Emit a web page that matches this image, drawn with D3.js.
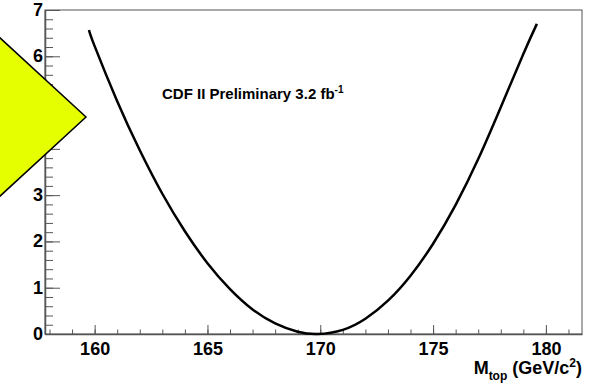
<!DOCTYPE html>
<html>
<head>
<meta charset="utf-8">
<script src="https://cdn.jsdelivr.net/npm/d3@7"></script>
<style>
  body { margin: 0; background: #fff; }
  svg { display: block; }
  text { font-family: "Liberation Sans", Arial, Helvetica, sans-serif; font-weight: bold; }
</style>
</head>
<body>
<div id="chart"></div>
<script>
// scan points: top mass (GeV/c^2) and -2 delta lnL
var massValues = [159.75, 160, 161, 162, 163, 164, 165, 166, 167, 168, 169, 169.9,
                  171, 172, 173, 174, 175, 176, 177, 178, 179, 179.6];
var likelihoodValues = [6.57, 6.22, 5.03, 3.97, 3.03, 2.22, 1.53, 0.97, 0.53, 0.23, 0.05, 0.00,
                        0.09, 0.33, 0.72, 1.26, 1.95, 2.79, 3.78, 4.90, 6.05, 6.70];
var xTicks = [160, 165, 170, 175, 180];
var yTicks = [0, 1, 2, 3, 4, 5, 6, 7];
var labelText = "CDF II Preliminary 3.2 fb";

var width = 600, height = 385;
var margin = {top: 10, right: 18, bottom: 51, left: 45};

var svg = d3.select("#chart")
  .append("svg")
    .attr("width", width)
    .attr("height", height);

var x = d3.scaleLinear()
  .domain([157.8, 181.6])
  .range([margin.left, width - margin.right]);

var y = d3.scaleLinear()
  .domain([0, 7])
  .range([height - margin.bottom, margin.top]);

// frame
svg.append("rect")
  .attr("x", margin.left)
  .attr("y", margin.top)
  .attr("width", width - margin.right - margin.left)
  .attr("height", height - margin.bottom - margin.top)
  .attr("fill", "none")
  .attr("stroke", "#555")
  .attr("stroke-width", 1);

// minor ticks
svg.append("g")
  .attr("transform", "translate(" + margin.left + ",0)")
  .call(d3.axisLeft(y).tickValues(d3.range(0, 7.001, 0.2)).tickSizeInner(-8).tickSizeOuter(0).tickFormat(""))
  .call(function(g) { g.select(".domain").remove(); })
  .selectAll("line").attr("stroke", "#555");

svg.append("g")
  .attr("transform", "translate(0," + (height - margin.bottom) + ")")
  .call(d3.axisBottom(x).tickValues(d3.range(158, 181.5, 1)).tickSizeInner(-4.5).tickSizeOuter(0).tickFormat(""))
  .call(function(g) { g.select(".domain").remove(); })
  .selectAll("line").attr("stroke", "#555");

// major ticks + labels
var yAxis = svg.append("g")
  .attr("transform", "translate(" + margin.left + ",0)")
  .call(d3.axisLeft(y).tickValues(yTicks).tickFormat(d3.format("d"))
    .tickSizeInner(-15).tickSizeOuter(0).tickPadding(2));
yAxis.select(".domain").attr("stroke", "#555").attr("stroke-width", 1.5);
yAxis.selectAll("line").attr("stroke", "#555");
yAxis.selectAll("text")
  .attr("font-size", 18)
  .attr("font-family", "Liberation Sans, Arial, sans-serif")
  .attr("font-weight", "bold")
  .attr("fill", "#000")
  .attr("dy", "0.3em");

var xAxis = svg.append("g")
  .attr("transform", "translate(0," + (height - margin.bottom) + ")")
  .call(d3.axisBottom(x).tickValues(xTicks).tickFormat(d3.format("d"))
    .tickSizeInner(-9).tickSizeOuter(0).tickPadding(8));
xAxis.select(".domain").attr("stroke", "#555").attr("stroke-width", 1.5);
xAxis.selectAll("line").attr("stroke", "#555");
xAxis.selectAll("text")
  .attr("font-size", 18)
  .attr("font-family", "Liberation Sans, Arial, sans-serif")
  .attr("font-weight", "bold")
  .attr("fill", "#000");

// likelihood curve
var points = massValues.map(function(m, i) { return [m, likelihoodValues[i]]; });
svg.append("path")
  .datum(points)
  .attr("fill", "none")
  .attr("stroke", "#000")
  .attr("stroke-width", 2.5)
  .attr("d", d3.line()
    .x(function(d) { return x(d[0]); })
    .y(function(d) { return y(d[1]); })
    .curve(d3.curveNatural));

// label
var lab = svg.append("text")
  .attr("x", 162)
  .attr("y", 99)
  .attr("font-size", 15)
  .attr("fill", "#000")
  .text(labelText);
lab.append("tspan")
  .attr("dy", -6)
  .attr("font-size", 10)
  .text("-1");

// x axis title
var title = svg.append("text")
  .attr("x", 582)
  .attr("y", 374)
  .attr("text-anchor", "end")
  .attr("font-size", 18)
  .attr("fill", "#000");
title.append("tspan").text("M");
title.append("tspan").attr("dy", 6).attr("font-size", 12).text("top");
title.append("tspan").attr("dy", -6).text("\u00a0(GeV/c");
title.append("tspan").attr("dy", -7).attr("font-size", 12).text("2");
title.append("tspan").attr("dy", 7).text(")");

// yellow diamond overlay
var diamond = [[86, 117], [-14, 25], [-114, 117], [-14, 209]];
svg.append("polygon")
  .attr("points", diamond.map(function(p) { return p.join(","); }).join(" "))
  .attr("fill", "#e6ff00")
  .attr("stroke", "#000")
  .attr("stroke-width", 1.5);
</script>
</body>
</html>
